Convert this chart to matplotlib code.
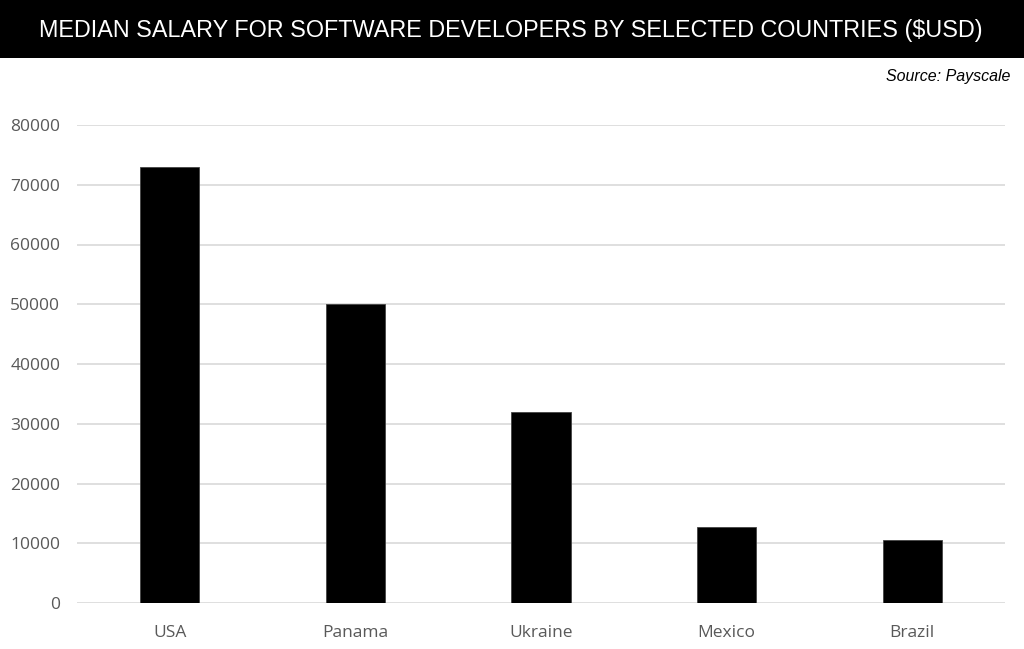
import matplotlib
matplotlib.use("Agg")
import matplotlib.pyplot as plt
from matplotlib.patches import Rectangle

countries = ["USA", "Panama", "Ukraine", "Mexico", "Brazil"]
salaries = [73000, 50000, 31900, 12800, 10500]
yticks = [0, 10000, 20000, 30000, 40000, 50000, 60000, 70000, 80000]

title = "MEDIAN SALARY FOR SOFTWARE DEVELOPERS BY SELECTED COUNTRIES ($USD)"
source = "Source: Payscale"

W, H = 1024, 649
fig = plt.figure(figsize=(W / 100, H / 100), dpi=100)

# black title band
fig.patches.append(Rectangle((0, 1 - 58 / H), 1, 58 / H, transform=fig.transFigure,
                             facecolor="black", edgecolor="none", zorder=0))
fig.text(511 / W, 1 - 31 / H, title, ha="center", va="center", color="white",
         fontsize=16.8, family=["Liberation Sans", "DejaVu Sans"])
fig.text(1010 / W, 1 - 76 / H, source, ha="right", va="center", color="black",
         fontsize=11.5, style="italic", family=["Liberation Sans", "DejaVu Sans"])

ax = fig.add_axes([77 / W, 1 - 603 / H, (1005 - 77) / W, (603 - 125) / H])
x = range(len(countries))
ax.bar(x, salaries, width=0.32, color="black", edgecolor="#444444", linewidth=0.6, zorder=3)
ax.set_xlim(-0.5, len(countries) - 0.5)
ax.set_ylim(0, 80000)
ax.set_yticks(yticks)
ax.set_xticks(list(x))
ax.set_xticklabels(countries)
ax.grid(axis="y", color="#d9d9d9", linewidth=1.2, zorder=0)
for s in ax.spines.values():
    s.set_visible(False)
ax.tick_params(length=0, labelsize=12.5, labelcolor="#595959")
ax.tick_params(axis="y", pad=12)
ax.tick_params(axis="x", pad=16)
for lab in ax.get_xticklabels() + ax.get_yticklabels():
    lab.set_family(["Open Sans", "DejaVu Sans"])

fig.savefig("out.png", dpi=100)
